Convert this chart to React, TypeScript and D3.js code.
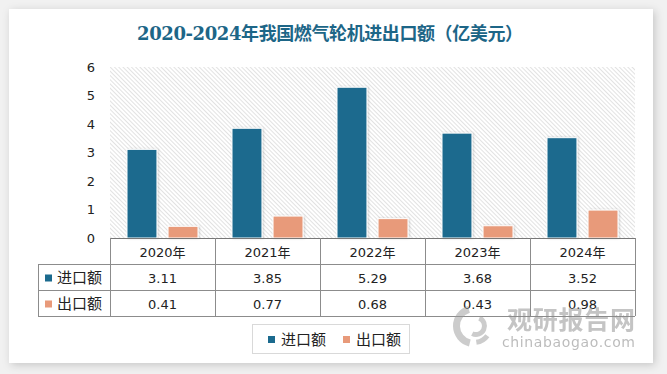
import * as d3 from 'd3'
import { useEffect, useRef } from 'react'

const years = ['2020年', '2021年', '2022年', '2023年', '2024年']
const seriesNames = ['进口额', '出口额']
const importValues = [3.11, 3.85, 5.29, 3.68, 3.52]
const exportValues = [0.41, 0.77, 0.68, 0.43, 0.98]
const yTicks = [0, 1, 2, 3, 4, 5, 6]
const colors = ['#1b6a8e', '#e89a7a']

const W = 667
const H = 374
const cjk = '"DejaVu Sans", "Noto Sans CJK SC", sans-serif'

const App = () => {
  const svgRef = useRef<SVGSVGElement>(null)

  useEffect(() => {
    const svg = d3.select(svgRef.current)
    svg.selectAll('*').remove()

    const left = 110
    const right = 635
    const top = 67
    const bottom = 238
    const rowH = 26

    const defs = svg.append('defs')
    const shadow = defs.append('filter').attr('id', 'cardShadow').attr('x', '-5%').attr('y', '-5%').attr('width', '110%').attr('height', '110%')
    shadow.append('feDropShadow').attr('dx', 2).attr('dy', 2).attr('stdDeviation', 4).attr('flood-color', '#000').attr('flood-opacity', 0.18)
    const barShadow = defs.append('filter').attr('id', 'barShadow').attr('x', '-20%').attr('y', '-20%').attr('width', '140%').attr('height', '140%')
    barShadow.append('feDropShadow').attr('dx', 1).attr('dy', 0).attr('stdDeviation', 1).attr('flood-color', '#000').attr('flood-opacity', 0.18)
    const hatch = defs
      .append('pattern')
      .attr('id', 'hatch')
      .attr('width', 3)
      .attr('height', 3)
      .attr('patternUnits', 'userSpaceOnUse')
      .attr('patternTransform', 'rotate(-45)')
    hatch.append('rect').attr('width', 3).attr('height', 3).attr('fill', '#fff')
    hatch.append('line').attr('x1', 0).attr('y1', 0).attr('x2', 0).attr('y2', 3).attr('stroke', '#cfcfcf').attr('stroke-width', 1.2)

    // page + card
    svg.append('rect').attr('width', W).attr('height', H).attr('fill', '#f1f1f1')
    svg.append('rect').attr('x', 9).attr('y', 9).attr('width', 644).attr('height', 354).attr('fill', '#fff').attr('filter', 'url(#cardShadow)')

    // title
    svg
      .append('text')
      .attr('x', 330)
      .attr('y', 40)
      .attr('text-anchor', 'middle')
      .style('font-family', '"DejaVu Serif", "Noto Sans CJK SC", serif')
      .style('font-weight', 'bold')
      .style('font-size', '18px')
      .attr('fill', '#1d6687')
      .attr('textLength', 386)
      .text('2020-2024年我国燃气轮机进出口额（亿美元）')

    // plot background
    svg.append('rect').attr('x', left).attr('y', top).attr('width', right - left).attr('height', bottom - top).attr('fill', 'url(#hatch)')

    const x = d3.scaleBand().domain(years).range([left, right])
    const xInner = d3.scaleBand().domain(seriesNames).range([17, 88]).paddingInner(0.27)
    const y = d3.scaleLinear().domain([0, 6]).range([bottom, top])

    // y axis labels
    svg
      .append('g')
      .selectAll('text')
      .data(yTicks)
      .join('text')
      .attr('x', 91)
      .attr('y', (d) => y(d))
      .attr('dy', '0.35em')
      .attr('text-anchor', 'middle')
      .style('font-family', cjk)
      .style('font-size', '13px')
      .attr('fill', '#222')
      .text((d) => d)

    // bars
    const allSeries = [importValues, exportValues]
    allSeries.forEach((vals, si) => {
      svg
        .append('g')
        .selectAll('rect')
        .data(vals)
        .join('rect')
        .attr('x', (d, i) => (x(years[i]) as number) + (xInner(seriesNames[si]) as number))
        .attr('y', (d) => y(d))
        .attr('width', xInner.bandwidth())
        .attr('height', (d) => bottom - y(d))
        .attr('fill', colors[si])
        .attr('stroke', '#fff')
        .attr('stroke-width', 1)
        .attr('filter', 'url(#barShadow)')
    })

    // data table
    const tbl = svg.append('g')
    const lineColor = '#8c8c8c'
    tbl.append('line').attr('x1', left).attr('x2', right).attr('y1', bottom + 0.5).attr('y2', bottom + 0.5).attr('stroke', '#777')
    ;[1, 2, 3].forEach((r) => {
      tbl
        .append('line')
        .attr('x1', 38)
        .attr('x2', right)
        .attr('y1', bottom + r * rowH + 0.5)
        .attr('y2', bottom + r * rowH + 0.5)
        .attr('stroke', lineColor)
    })
    const vlines = years.map((yr) => x(yr) as number).concat([right])
    tbl
      .selectAll('line.v')
      .data(vlines)
      .join('line')
      .attr('class', 'v')
      .attr('x1', (d) => d + 0.5)
      .attr('x2', (d) => d + 0.5)
      .attr('y1', bottom)
      .attr('y2', bottom + 3 * rowH)
      .attr('stroke', lineColor)
    tbl.append('line').attr('x1', 38.5).attr('x2', 38.5).attr('y1', bottom + rowH).attr('y2', bottom + 3 * rowH).attr('stroke', lineColor)

    const cellText = (g, xs, yy, txt) =>
      g
        .append('text')
        .attr('x', xs)
        .attr('y', yy)
        .attr('dy', '0.35em')
        .attr('text-anchor', 'middle')
        .style('font-family', cjk)
        .style('font-size', '13px')
        .attr('fill', '#222')
        .text(txt)

    years.forEach((yr, i) => {
      const cx = (x(yr) as number) + x.bandwidth() / 2
      cellText(tbl, cx, bottom + rowH / 2 + 1, yr)
      cellText(tbl, cx, bottom + rowH * 1.5 + 1, importValues[i].toFixed(2))
      cellText(tbl, cx, bottom + rowH * 2.5 + 1, exportValues[i].toFixed(2))
    })
    seriesNames.forEach((s, si) => {
      const cy = bottom + rowH * (1.5 + si) + 1
      tbl.append('rect').attr('x', 45).attr('y', cy - 3.5).attr('width', 7).attr('height', 7).attr('fill', colors[si])
      tbl
        .append('text')
        .attr('x', 57)
        .attr('y', cy)
        .attr('dy', '0.35em')
        .style('font-family', cjk)
        .style('font-size', '15px')
        .attr('fill', '#222')
        .text(s)
    })

    // legend
    const lg = svg.append('g')
    lg.append('rect').attr('x', 252.5).attr('y', 324.5).attr('width', 157).attr('height', 29).attr('fill', '#fff').attr('stroke', '#d9d9d9')
    const legendX = [268, 343]
    seriesNames.forEach((s, si) => {
      lg.append('rect').attr('x', legendX[si]).attr('y', 336).attr('width', 7).attr('height', 7).attr('fill', colors[si])
      lg
        .append('text')
        .attr('x', legendX[si] + 13)
        .attr('y', 339.5)
        .attr('dy', '0.35em')
        .style('font-family', cjk)
        .style('font-size', '15px')
        .attr('fill', '#222')
        .text(s)
    })

    // watermark
    const wm = svg.append('g').attr('opacity', 0.5)
    const arc = d3.arc()
    wm.append('path')
      .attr('transform', 'translate(474,326)')
      .attr('d', arc({ innerRadius: 14, outerRadius: 21, startAngle: -0.3, endAngle: -2.9 } as any) as string)
      .attr('fill', '#9a9a9a')
    wm.append('path')
      .attr('transform', 'translate(476,326)')
      .attr('d', arc({ innerRadius: 6, outerRadius: 11, startAngle: 0.4, endAngle: 3.6 } as any) as string)
      .attr('fill', '#9a9a9a')
    wm.append('path')
      .attr('transform', 'translate(474,326)')
      .attr('d', arc({ innerRadius: 14, outerRadius: 19, startAngle: 2.2, endAngle: 3.0 } as any) as string)
      .attr('fill', '#9a9a9a')
    wm.append('text')
      .attr('x', 507)
      .attr('y', 329)
      .style('font-family', '"Noto Sans CJK SC", sans-serif')
      .style('font-weight', 'bold')
      .style('font-size', '25px')
      .attr('fill', '#8a8a8a')
      .attr('textLength', 128)
      .text('观研报告网')
    wm.append('text')
      .attr('x', 502)
      .attr('y', 347)
      .style('font-family', '"DejaVu Sans", sans-serif')
      .style('font-size', '14px')
      .attr('fill', '#7a7a7a')
      .attr('textLength', 133)
      .text('chinabaogao.com')
  }, [])

  return (
    <svg
      ref={svgRef}
      width={W}
      height={H}
      style={{ position: 'absolute', left: 0, top: 0, display: 'block' }}
    ></svg>
  )
}

export default App
